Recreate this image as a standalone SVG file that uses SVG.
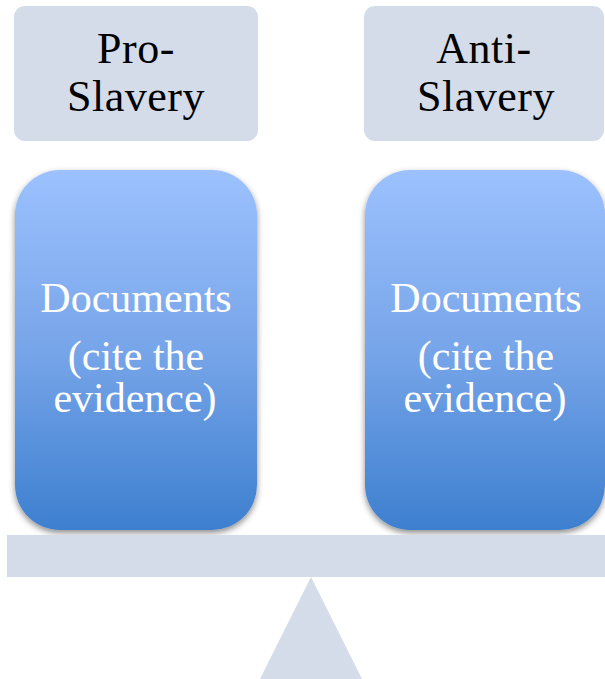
<svg xmlns="http://www.w3.org/2000/svg" width="605" height="679" viewBox="0 0 605 679">
<style>
.hdr{fill:#d4dbe9}
.doc{fill:url(#blue);filter:url(#sh)}
.t{font-family:"Liberation Serif","DejaVu Serif",serif;font-size:42px;text-anchor:middle}
.h{font-size:44px;letter-spacing:0.5px}
.k{fill:#000}
.w{fill:#fff}
.base{fill:#d4dbe9}
</style>
<defs>
<linearGradient id="blue" x1="0" y1="0" x2="0" y2="1">
<stop offset="0" stop-color="#9cc1fe"/>
<stop offset="0.5" stop-color="#77a5e9"/>
<stop offset="1" stop-color="#3d7fcf"/>
</linearGradient>
<filter id="sh" x="-10%" y="-10%" width="120%" height="120%">
<feDropShadow dx="0" dy="3" stdDeviation="3" flood-color="#000" flood-opacity="0.45"/>
</filter>
</defs>
<g id="pro-header">
<rect class="hdr" x="14" y="6" width="244" height="135" rx="11"/>
<text class="t h k" x="136" y="63">Pro-</text>
<text class="t h k" x="136" y="111">Slavery</text>
</g>
<g id="anti-header">
<rect class="hdr" x="364" y="6" width="240" height="135" rx="11"/>
<text class="t h k" x="484" y="63">Anti-</text>
<text class="t h k" x="486" y="111">Slavery</text>
</g>
<g id="pro-docs">
<rect class="doc" x="15" y="170" width="242" height="360" rx="45"/>
<text class="t w" x="136" y="312">Documents</text>
<text class="t w" x="136" y="370">(cite the</text>
<text class="t w" x="135" y="412">evidence)</text>
</g>
<g id="anti-docs">
<rect class="doc" x="365" y="170" width="240" height="360" rx="45"/>
<text class="t w" x="486" y="312">Documents</text>
<text class="t w" x="486" y="370">(cite the</text>
<text class="t w" x="485" y="412">evidence)</text>
</g>
<g id="scale">
<rect class="base" x="7" y="535" width="598" height="42"/>
<polygon class="base" points="311,577 362,679 260,679"/>
</g>
<g id="connectors"></g>
</svg>
